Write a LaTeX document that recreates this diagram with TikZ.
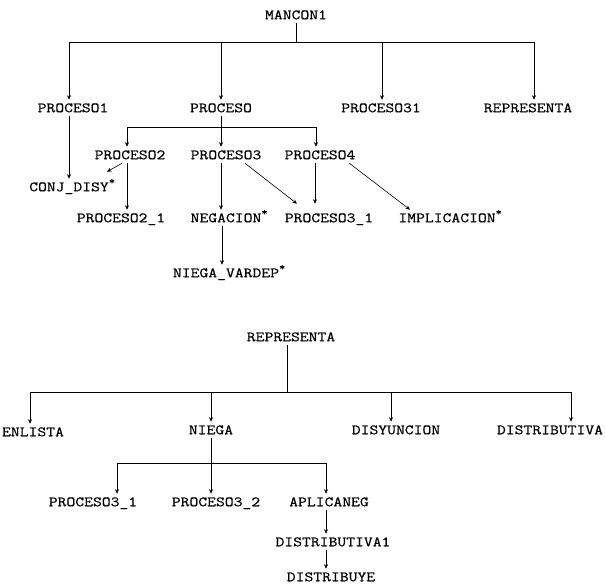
\documentclass[tikz,border=0pt]{standalone}
\usepackage{fontspec}
\setmainfont{Latin Modern Mono}[FakeStretch=1.2, FakeBold=0.6]
\usetikzlibrary{arrows.meta}

\newcommand{\predmark}{\rlap{\raisebox{7pt}{\fontsize{10}{10}\selectfont *}}}

\begin{document}
\begin{tikzpicture}[x=1pt, y=-1pt, line width=0.6pt,
        >={Stealth[length=4.5pt,width=4pt]},
        every node/.style={font=\fontsize{14.3}{17}\selectfont, inner sep=0pt, outer sep=4pt,
                           text height=8.5pt, text depth=0pt}]
    \useasboundingbox (0,0) rectangle (605,585);

    % MANCON1
    \node (mancon)   at (296,  15) {MANCON1};
    \node (proceso1) at (73,  108) {PROCESO1};
    \node (proceso)  at (221, 108) {PROCESO};
    \node (proc31)   at (381, 108) {PROCESO31};
    \node (repre)    at (528, 108) {REPRESENTA};

    \node (proceso2) at (130, 155) {PROCESO2};
    \node (proceso3) at (226, 155) {PROCESO3};
    \node (proceso4) at (320, 155) {PROCESO4};

    \node (conjdisy) at (69,  187) {CONJ\_DISY\predmark};
    \node (proc21)   at (121, 218) {PROCESO2\_1};
    \node (negacion) at (226, 218) {NEGACION\predmark};
    \node (proc3a)   at (329, 218) {PROCESO3\_1};
    \node (implica)  at (447, 218) {IMPLICACION\predmark};
    \node (vardep)   at (226, 273) {NIEGA\_VARDEP\predmark};

    \coordinate (bar1) at (0, 42);
    \coordinate (bar2) at (0, 127);

    \draw (mancon.south) -- (mancon.south |- bar1);
    \draw[->] (mancon.south |- bar1) -| ([xshift=-4pt]proceso1.north);
    \draw[->] (mancon.south |- bar1) -| (proceso.north);
    \draw[->] (mancon.south |- bar1) -| ([xshift=1pt]proc31.north);
    \draw[->] (mancon.south |- bar1) -| ([xshift=6pt]repre.north);

    \draw (proceso.south) -- (proceso.south |- bar2);
    \draw[->] (proceso.south |- bar2) -| ([xshift=-3pt]proceso2.north);
    \draw[->] (proceso.south |- bar2) -| ([xshift=-5pt]proceso3.north);
    \draw[->] (proceso.south |- bar2) -| ([xshift=-4pt]proceso4.north);

    \draw[->] ([xshift=-4pt]proceso1.south) -- (conjdisy.north);
    \draw[->] ([xshift=-8pt]proceso2.south) -- ([xshift=38pt, yshift=7pt]conjdisy.north);
    \draw[->] ([xshift=-3pt]proceso2.south) -- ([xshift=-3pt]proceso2.south |- proc21.north);
    \draw[->] ([xshift=-5pt]proceso3.south) -- ([xshift=-5pt]proceso3.south |- negacion.north);
    \draw[->] ([xshift=19pt]proceso3.south) -- ([xshift=-32pt, yshift=6pt]proc3a.north);
    \draw[->] ([xshift=-5pt]proceso4.south) -- ([xshift=-5pt, yshift=6pt]proceso4.south |- proc3a.north);
    \draw[->] ([xshift=-10pt]proceso4.south east) -- ([xshift=-37pt]implica.north);
    \draw[->] ([xshift=-4pt]negacion.south) -- ([xshift=-4pt]negacion.south |- vardep.north);

    % REPRESENTA
    \node (repr)     at (291, 337) {REPRESENTA};
    \node (enlista)  at (33,  432) {ENLISTA};
    \node (niega)    at (211, 430) {NIEGA};
    \node (disyun)   at (396, 430) {DISYUNCION};
    \node (distrib)  at (550, 430) {DISTRIBUTIVA};

    \node (proc3b)   at (93,  502) {PROCESO3\_1};
    \node (proc32)   at (216, 502) {PROCESO3\_2};
    \node (aplica)   at (329, 502) {APLICANEG};
    \node (distrib1) at (333, 542) {DISTRIBUTIVA1};
    \node (distribuye) at (331, 577) {DISTRIBUYE};

    \coordinate (bar3) at (0, 392);
    \coordinate (bar4) at (0, 463);

    \draw ([xshift=-4pt]repr.south) -- ([xshift=-4pt]repr.south |- bar3);
    \draw[->] ([xshift=-4pt]repr.south |- bar3) -| ([xshift=-3pt]enlista.north);
    \draw[->] ([xshift=-4pt]repr.south |- bar3) -| (niega.north);
    \draw[->] ([xshift=-4pt]repr.south |- bar3) -| ([xshift=-5pt]disyun.north);
    \draw[->] ([xshift=-4pt]repr.south |- bar3) -| ([xshift=21pt]distrib.north);

    \draw[->] (niega.south) -- (niega.south |- proc32.north);
    \draw[->] (niega.south |- bar4) -| ([xshift=24pt]proc3b.north);
    \draw[->] (niega.south |- bar4) -| ([xshift=-3pt]aplica.north);

    \draw[->] ([xshift=-3pt]aplica.south) -- ([xshift=-3pt]aplica.south |- distrib1.north);
    \draw[->] ([xshift=-7pt]distrib1.south) -- ([xshift=-7pt]distrib1.south |- distribuye.north);
\end{tikzpicture}
\end{document}
